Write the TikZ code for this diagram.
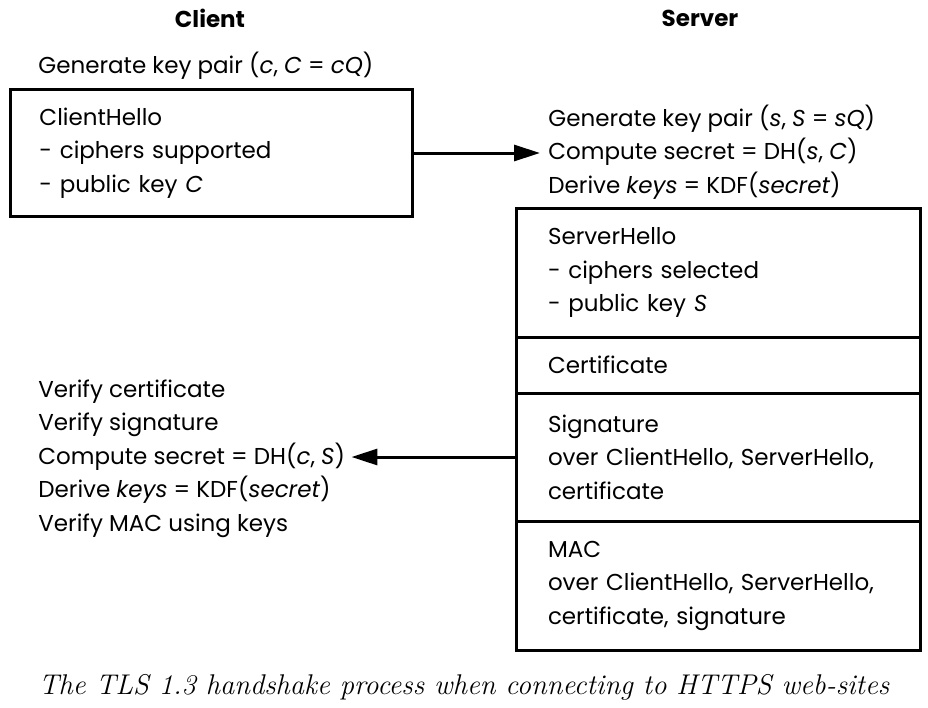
\documentclass[tikz,border=0pt]{standalone}
\usepackage{fontspec}
\newfontfamily\geofont{Poppins}
\usetikzlibrary{arrows.meta,positioning}
\tikzset{
  tx/.style={font=\geofont\fontsize{11.5}{16.75}\selectfont, align=left, inner sep=0pt},
  hd/.style={font=\geofont\bfseries\fontsize{11.5}{14}\selectfont, inner sep=0pt},
  msgbox/.style={tx, draw, line width=1.5pt, text width=172pt, inner xsep=14.5pt},
  srvbox/.style={tx, draw, line width=1.5pt, outer sep=0pt, text width=170pt, inner xsep=16pt},
  ar/.style={-{Triangle[length=13pt, width=8pt]}, line width=1.5pt},
}

\begin{document}
\begin{tikzpicture}
  \useasboundingbox (0,0) rectangle (464pt,-354pt);
  \node[hd] (hclient) at (105pt,-9pt) {Client};
  \node[hd] (hserver) at (350pt,-9pt) {Server};
  \node[tx, anchor=base west] (cgen) at (19pt,-36.5pt) {Generate key pair (\textit{c}, \textit{C} = \textit{cQ})};
  \node[msgbox, minimum height=63.5pt, anchor=north west] (chello) at (4.5pt,-44pt)
    {ClientHello\\- ciphers supported\\- public key \textit{C}};
  \node[tx, inner xsep=4pt, anchor=base west] (sgen) at (270pt,-96.5pt)
    {Generate key pair (\textit{s}, \textit{S} = \textit{sQ})\\
     Compute secret = DH(\textit{s}, \textit{C})\\
     Derive \textit{keys} = KDF(\textit{secret})};
  \node[srvbox, minimum height=64.5pt, anchor=north west] (shello) at (258pt,-104pt)
    {ServerHello\\- ciphers selected\\- public key \textit{S}};
  \node[srvbox, minimum height=28pt, below=0pt of shello] (scert) {Certificate};
  \node[srvbox, minimum height=64pt, below=0pt of scert] (ssig)
    {Signature\\over ClientHello, ServerHello,\\certificate};
  \node[srvbox, minimum height=64.5pt, below=0pt of ssig] (smac)
    {MAC\\over ClientHello, ServerHello,\\certificate, signature};
  \node[tx, inner xsep=3pt, anchor=base west] (verify) at (16pt,-265.5pt)
    {Verify certificate\\
     Verify signature\\
     Compute secret = DH(\textit{c}, \textit{S})\\
     Derive \textit{keys} = KDF(\textit{secret})\\
     Verify MAC using keys};
  \node[font=\itshape\fontsize{14.25}{17}\selectfont] (caption) at (232pt,-343.5pt)
    {The TLS 1.3 handshake process when connecting to HTTPS web-sites};
  \draw[ar] (chello.east) -- (chello.east -| sgen.west);
  \draw[ar] (ssig.west) -- (ssig.west -| verify.east);
\end{tikzpicture}
\end{document}
